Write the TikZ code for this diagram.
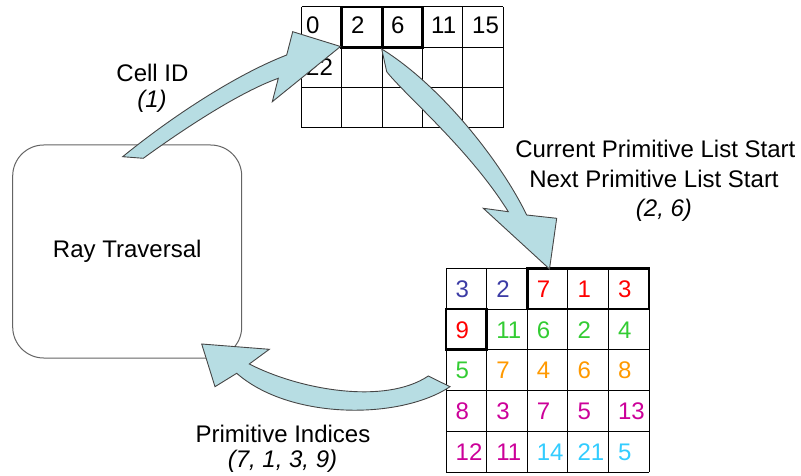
\documentclass[tikz,border=0pt]{standalone}
\usepackage{fontspec}
\setmainfont{Liberation Sans}
\definecolor{arrowfill}{RGB}{183,221,227}
\definecolor{arrowline}{RGB}{70,70,70}
\definecolor{boxline}{RGB}{100,100,100}
\definecolor{nblue}{RGB}{60,60,165}
\definecolor{nred}{RGB}{255,0,0}
\definecolor{ngreen}{RGB}{51,204,51}
\definecolor{norange}{RGB}{255,153,0}
\definecolor{nmag}{RGB}{204,0,153}
\definecolor{ncyan}{RGB}{51,204,255}
\begin{document}
\begin{tikzpicture}[x=1pt,y=-1pt,
  gridline/.style={draw=black,line width=1pt},
  boldcell/.style={draw=black,line width=2.8pt},
  blockarrow/.style={fill=arrowfill,draw=arrowline,line width=0.9pt,line join=miter},
  lbl/.style={font=\fontsize{24}{28}\selectfont,inner sep=0pt},
  num/.style={font=\fontsize{24}{28}\selectfont,inner sep=0pt,anchor=base west},
  roundbox/.style={draw=boxline,line width=1pt,rounded corners=31pt,minimum width=229pt,minimum height=213pt,fill=white}]
\useasboundingbox (0,0) rectangle (801,476);

% Ray traversal box
\node[roundbox,lbl] (rt) at (127.2,251.5) {Ray Traversal};

% top grid (cell table)
\foreach \i in {0,...,5} \draw[gridline] (301.5+40.3*\i,7) -- (301.5+40.3*\i,128);
\foreach \j in {0,...,3} \draw[gridline] (301.5,7+40.33*\j) -- (503,7+40.33*\j);
\draw[boldcell] (341.8,7) rectangle (382.1,47.3);
\draw[boldcell] (382.1,7) rectangle (422.4,47.3);
\node[num] (c0) at (306,34) {0};
\node[num] (c1) at (351,34) {2};
\node[num] (c2) at (391,34) {6};
\node[num] (c3) at (431,34) {11};
\node[num] (c4) at (472,34) {15};
\node[num] (c5) at (306,76) {22};

% bottom grid (primitive list)
\foreach \i in {0,...,5} \draw[gridline] (446+40.6*\i,268.3) -- (446+40.6*\i,472);
\foreach \j in {0,...,5} \draw[gridline] (446,268.3+40.74*\j) -- (649,268.3+40.74*\j);
\draw[boldcell] (527.2,268.3) rectangle (649,309);
\draw[boldcell] (446,309) rectangle (486.6,349.8);

\foreach \t/\c [count=\k from 0] in {3/nblue,2/nblue,7/nred,1/nred,3/nred,
  9/nred,11/ngreen,6/ngreen,2/ngreen,4/ngreen,
  5/ngreen,7/norange,4/norange,6/norange,8/norange,
  8/nmag,3/nmag,7/nmag,5/nmag,13/nmag,
  12/nmag,11/nmag,14/ncyan,21/ncyan,5/ncyan}{
  \pgfmathtruncatemacro{\col}{mod(\k,5)}
  \pgfmathtruncatemacro{\row}{div(\k,5)}
  \node[num,text=\c] (p\k) at (455.5+40.6*\col,297.3+40.74*\row) {\t};
}

% arrow 1: cell id
\coordinate (a1A) at (122.7,156.7);
\coordinate (a1B) at (143.3,158.3);
\coordinate (a1C) at (286.7,55);
\coordinate (a1D) at (292.7,31.7);
\coordinate (a1T) at (340.5,46.5);
\coordinate (a1E) at (272.3,101.7);
\coordinate (a1F) at (278.3,78.3);
\draw[blockarrow] (a1A) .. controls (170,118) and (235,75) .. (a1C) -- (a1D) -- (a1T) -- (a1E) -- (a1F)
  .. controls (240,92) and (185,128) .. (a1B) -- cycle;

% arrow 2: list start
\coordinate (a2P) at (381.7,49);
\coordinate (a2Q) at (386.7,71.7);
\coordinate (a2L) at (508.3,211.7);
\coordinate (a2LB) at (483.3,208.3);
\coordinate (a2T) at (549.5,269);
\coordinate (a2RB) at (556.7,218.3);
\coordinate (a2R) at (526.7,215);
\draw[blockarrow] (a2P) -- (a2Q) .. controls (405,95) and (470,150) .. (a2L) -- (a2LB) -- (a2T) -- (a2RB) -- (a2R)
  .. controls (500,160) and (440,85) .. (a2P) -- cycle;

% arrow 3: primitive indices
\coordinate (a3T) at (201.7,344);
\coordinate (a3U) at (269.3,349.3);
\coordinate (a3IU) at (249.3,364);
\coordinate (a3TU) at (428.3,376);
\coordinate (a3TL) at (450,386.7);
\coordinate (a3IL) at (236.7,373.3);
\coordinate (a3LB) at (215,386.7);
\draw[blockarrow] (a3T) -- (a3U) -- (a3IU) .. controls (300,390) and (385,405) .. (a3TU) -- (a3TL)
  .. controls (400,420) and (290,420) .. (a3IL) -- (a3LB) -- cycle;

% labels
\node[lbl,anchor=base] (l1) at (152.5,81.5) {Cell ID};
\node[lbl,anchor=base] (l2) at (152,108) {\itshape (1)};
\node[lbl,anchor=base] (l3) at (655.3,158) {Current Primitive List Start};
\node[lbl,anchor=base] (l4) at (654,188) {Next Primitive List Start};
\node[lbl,anchor=base] (l5) at (664,216) {\itshape (2, 6)};
\node[lbl,anchor=base] (l6) at (283,442) {Primitive Indices};
\node[lbl,anchor=base] (l7) at (282.5,467) {\itshape (7, 1, 3, 9)};
\end{tikzpicture}
\end{document}
